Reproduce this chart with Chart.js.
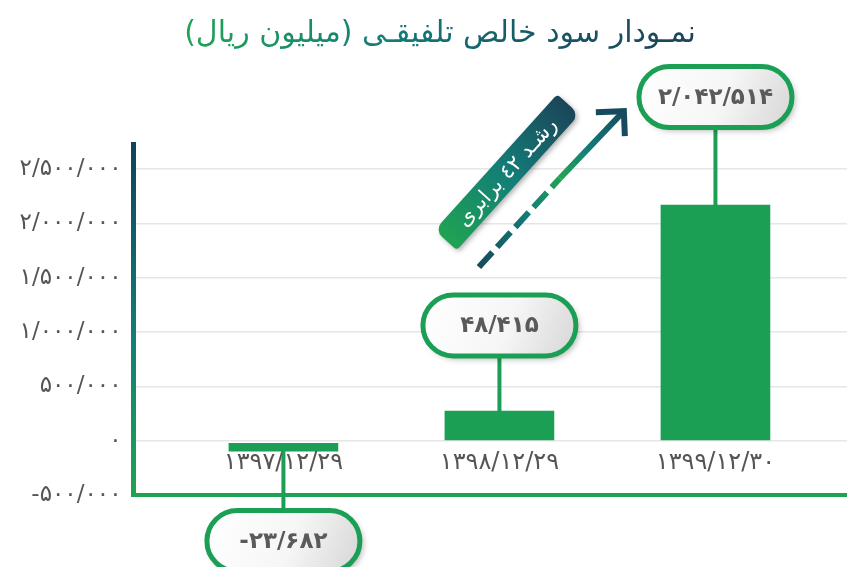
<!DOCTYPE html>
<html>

<head>
  <meta charset="utf-8">
  <title>نمودار سود خالص تلفیقی</title>
  <script src="https://cdn.jsdelivr.net/npm/chart.js"></script>
  <style>
    html, body { margin: 0; padding: 0; background: #fff; }
    #wrap { position: relative; width: 847px; height: 567px; overflow: hidden; }
    #titleRow { position: absolute; top: 14px; left: 0; width: 880px; text-align: center; }
    #title {
      display: inline-block;
      font-family: "DejaVu Sans", sans-serif; font-size: 30px; direction: rtl;
      background: linear-gradient(to left, #1b4358 0%, #165b68 35%, #137d78 60%, #22a353 100%);
      -webkit-background-clip: text; background-clip: text; color: transparent;
    }
  </style>
</head>

<body>
  <div id="wrap">
    <canvas id="profitChart"></canvas>
    <div id="titleRow"><span id="title">نمـودار سود خالص تلفیقـی (میلیون ریال)</span></div>
  </div>
  <script>
    // data
    var categories = ['۱۳۹۷/۱۲/۲۹', '۱۳۹۸/۱۲/۲۹', '۱۳۹۹/۱۲/۳۰'];
    var barTops = [-24000, 273000, 2168000];
    var barBases = [-97000, 0, 0];
    var calloutLabels = ['-۲۳/۶۸۲', '۴۸/۴۱۵', '۲/۰۴۲/۵۱۴'];
    var calloutLevels = [-923000, 1060000, 3162000];
    var growthText = 'رشـد ٤٢ برابری';

    var green = '#1b9f55';
    var navy = '#164a5e';
    var teal = '#137d78';

    function toFa(s) {
      return String(s).replace(/\d/g, function (d) { return '۰۱۲۳۴۵۶۷۸۹'[d]; });
    }

    var points = categories.map(function (c, i) {
      return { x: i, y: [barBases[i], barTops[i]] };
    });

    // axis lines, labels, callouts and growth arrow
    var decor = {
      id: 'decor',
      afterDraw: function (chart) {
        var ctx = chart.ctx;
        var xs = chart.scales.x, ys = chart.scales.y;
        var area = chart.chartArea;
        ctx.save();

        // y axis gradient line
        var g = ctx.createLinearGradient(0, area.top - 27, 0, area.bottom);
        g.addColorStop(0, '#0f4358');
        g.addColorStop(0.55, teal);
        g.addColorStop(1, '#1fa352');
        ctx.strokeStyle = g;
        ctx.lineWidth = 5;
        ctx.beginPath();
        ctx.moveTo(area.left, area.top - 27);
        ctx.lineTo(area.left, area.bottom + 2);
        ctx.stroke();

        // bottom green line
        ctx.strokeStyle = '#1fa352';
        ctx.lineWidth = 4;
        ctx.beginPath();
        ctx.moveTo(area.left - 2.5, area.bottom);
        ctx.lineTo(area.right, area.bottom);
        ctx.stroke();

        // category labels under the zero line
        var zeroY = ys.getPixelForValue(0);
        ctx.fillStyle = '#555';
        ctx.font = '24px "DejaVu Sans"';
        ctx.textAlign = 'center';
        ctx.textBaseline = 'middle';
        ctx.direction = 'ltr';
        categories.forEach(function (c, i) {
          ctx.fillText(c, xs.getPixelForValue(i), zeroY + 22);
        });

        // callouts
        var pw = 153, ph = 61;
        categories.forEach(function (c, i) {
          var cx = xs.getPixelForValue(i);
          var cy = ys.getPixelForValue(calloutLevels[i]);
          var barEnd = calloutLevels[i] < 0 ? ys.getPixelForValue(barBases[i]) : ys.getPixelForValue(barTops[i]);
          var pillEdge = calloutLevels[i] < 0 ? cy - ph / 2 : cy + ph / 2;

          ctx.strokeStyle = green;
          ctx.lineWidth = 4;
          ctx.beginPath();
          ctx.moveTo(cx, barEnd);
          ctx.lineTo(cx, pillEdge);
          ctx.stroke();

          var fill = ctx.createLinearGradient(cx - pw / 2, cy - ph / 2, cx + pw / 2, cy + ph / 2);
          fill.addColorStop(0, '#ffffff');
          fill.addColorStop(0.55, '#f6f6f6');
          fill.addColorStop(1, '#d6d6d6');
          ctx.save();
          ctx.shadowColor = 'rgba(0,0,0,0.3)';
          ctx.shadowBlur = 6;
          ctx.shadowOffsetX = 3;
          ctx.shadowOffsetY = 3;
          ctx.beginPath();
          ctx.roundRect(cx - pw / 2, cy - ph / 2, pw, ph, ph / 2);
          ctx.fillStyle = fill;
          ctx.fill();
          ctx.restore();
          ctx.beginPath();
          ctx.roundRect(cx - pw / 2, cy - ph / 2, pw, ph, ph / 2);
          ctx.lineWidth = 5;
          ctx.strokeStyle = green;
          ctx.stroke();

          ctx.fillStyle = '#5a5a5a';
          ctx.font = 'bold 23px "DejaVu Sans"';
          ctx.fillText(calloutLabels[i], cx, cy + 1);
        });

        // growth arrow
        var ax0 = xs.getPixelForValue(0.905), ay0 = ys.getPixelForValue(1598000);
        var ax1 = xs.getPixelForValue(1.28), ay1 = ys.getPixelForValue(2415000);
        var ax2 = xs.getPixelForValue(1.576), ay2 = ys.getPixelForValue(3032000);
        var ag = ctx.createLinearGradient(ax0, ay0, ax2, ay2);
        ag.addColorStop(0, navy);
        ag.addColorStop(0.35, teal);
        ag.addColorStop(0.58, '#22a353');
        ag.addColorStop(0.75, teal);
        ag.addColorStop(1, navy);
        ctx.strokeStyle = ag;
        ctx.lineWidth = 6;
        ctx.lineCap = 'butt';
        ctx.setLineDash([20, 7]);
        ctx.beginPath();
        ctx.moveTo(ax0, ay0);
        ctx.lineTo(ax1, ay1);
        ctx.stroke();
        ctx.setLineDash([]);
        ctx.beginPath();
        ctx.moveTo(ax1, ay1);
        ctx.lineTo(ax2, ay2);
        ctx.stroke();
        ctx.strokeStyle = navy;
        ctx.lineJoin = 'miter';
        ctx.beginPath();
        ctx.moveTo(ax2 - 28, ay2 + 1);
        ctx.lineTo(ax2, ay2);
        ctx.lineTo(ax2 + 1, ay2 + 25);
        ctx.stroke();

        // growth banner
        var bx = xs.getPixelForValue(1.035), by = ys.getPixelForValue(2470000);
        var bl = 183, bt = 30;
        ctx.translate(bx, by);
        ctx.rotate(-47.9 * Math.PI / 180);
        var bg = ctx.createLinearGradient(-bl / 2, 0, bl / 2, 0);
        bg.addColorStop(0, '#1fa352');
        bg.addColorStop(0.5, teal);
        bg.addColorStop(1, '#1b4559');
        ctx.save();
        ctx.shadowColor = 'rgba(0,0,0,0.3)';
        ctx.shadowBlur = 5;
        ctx.shadowOffsetX = 2;
        ctx.shadowOffsetY = 2;
        ctx.beginPath();
        ctx.roundRect(-bl / 2, -bt / 2, bl, bt, [10, 4, 10, 4]);
        ctx.fillStyle = bg;
        ctx.fill();
        ctx.restore();
        ctx.fillStyle = '#fff';
        ctx.font = '21px "DejaVu Sans"';
        ctx.direction = 'rtl';
        ctx.textAlign = 'center';
        ctx.fillText(growthText, 0, 1);

        ctx.restore();
      }
    };

    var ctx = document.getElementById('profitChart').getContext('2d');
    var chart = new Chart(ctx, {
      type: 'bar',
      data: {
        datasets: [{
          label: 'سود خالص',
          data: points,
          backgroundColor: green,
          barThickness: 109
        }]
      },
      options: {
        responsive: true,
        maintainAspectRatio: false,
        animation: false,
        layout: { padding: { top: 169, right: 0, bottom: 0, left: 0 } },
        plugins: { legend: { display: false }, tooltip: { enabled: false } },
        scales: {
          x: {
            type: 'linear',
            offset: false,
            min: -0.694,
            max: 2.609,
            grid: { display: false },
            border: { display: false },
            ticks: { display: false },
            afterFit: function (scale) { scale.height = 72; }
          },
          y: {
            min: -500000,
            max: 2500000,
            border: { display: false },
            grid: { color: '#e6e6e6', lineWidth: 1.5, drawTicks: false },
            ticks: {
              stepSize: 500000,
              padding: 12,
              color: '#555',
              font: { family: 'DejaVu Sans', size: 23 },
              callback: function (value) {
                var s = Math.abs(value).toLocaleString('en-US').replace(/,/g, '/');
                return (value < 0 ? '-' : '') + toFa(s);
              }
            },
            afterFit: function (scale) { scale.width = 133.5; }
          }
        }
      },
      plugins: [decor]
    });
  </script>
</body>

</html>
